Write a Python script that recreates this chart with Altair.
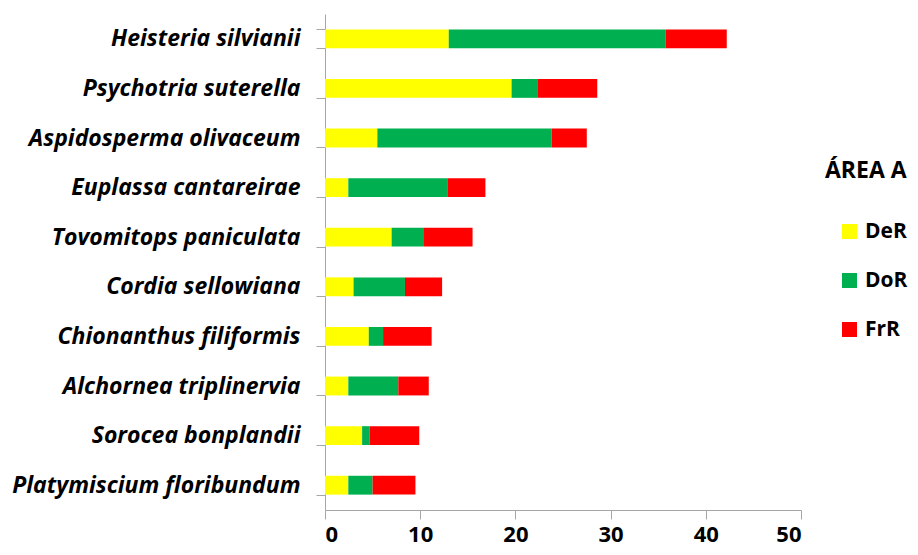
import altair as alt
import pandas as pd

species = [
    "Heisteria silvianii",
    "Psychotria suterella",
    "Aspidosperma olivaceum",
    "Euplassa cantareirae",
    "Tovomitops paniculata",
    "Cordia sellowiana",
    "Chionanthus filiformis",
    "Alchornea triplinervia",
    "Sorocea bonplandii",
    "Platymiscium floribundum",
]
der = [13.0, 19.6, 5.5, 2.45, 7.0, 3.0, 4.6, 2.45, 3.9, 2.45]
dor = [22.8, 2.7, 18.3, 10.4, 3.4, 5.4, 1.5, 5.25, 0.8, 2.55]
frr = [6.4, 6.3, 3.7, 4.0, 5.1, 3.9, 5.1, 3.2, 5.2, 4.5]
series = ["DeR", "DoR", "FrR"]
colors = ["#FFFF00", "#00B050", "#FF0000"]

rows = []
for i, sp in enumerate(species):
    for k, (name, vals) in enumerate(zip(series, [der, dor, frr])):
        rows.append({"species": sp, "serie": name, "value": vals[i], "ord": k})
df = pd.DataFrame(rows)

font = "Open Sans"

chart = alt.Chart(df).mark_bar(stroke=None).encode(
    y=alt.Y("species:N", sort=species, title=None,
            scale=alt.Scale(paddingInner=0.62, paddingOuter=0.31),
            axis=alt.Axis(tickBand="extent", labelFont=font, labelFontSize=23,
                          labelFontWeight="bold", labelFontStyle="italic",
                          labelColor="#000000", domainColor="#a6a6a6",
                          tickColor="#a6a6a6", tickSize=9, labelPadding=16,
                          labelLimit=400)),
    x=alt.X("value:Q", stack="zero", title=None,
            scale=alt.Scale(domain=[0, 50], nice=False),
            axis=alt.Axis(values=[0, 10, 20, 30, 40, 50], grid=False,
                          labelFont=font, labelFontSize=22, labelFontWeight="bold",
                          labelColor="#000000", domainColor="#a6a6a6",
                          tickColor="#a6a6a6", tickSize=9, labelPadding=5)),
    color=alt.Color("serie:N", scale=alt.Scale(domain=series, range=colors),
                    legend=alt.Legend(title="ÁREA A", orient="none",
                                      legendX=500, legendY=146,
                                      titleFont=font, titleFontSize=23,
                                      titleFontWeight="bold", titleColor="#000000",
                                      titlePadding=38,
                                      labelFont=font, labelFontSize=21,
                                      labelFontWeight="bold", labelColor="#000000",
                                      symbolType="square", symbolSize=225,
                                      symbolStrokeWidth=0, symbolOffset=14,
                                      rowPadding=27,
                                      offset=0, padding=0, labelOffset=5)),
    order=alt.Order("ord:Q"),
).properties(
    width=476, height=496,
    autosize=alt.AutoSizeParams(type="none"),
    padding={"left": 317, "top": 6, "right": 109, "bottom": 37},
).configure_view(stroke=None)

chart.save("out.html", embed_options={"renderer": "svg", "actions": False})
